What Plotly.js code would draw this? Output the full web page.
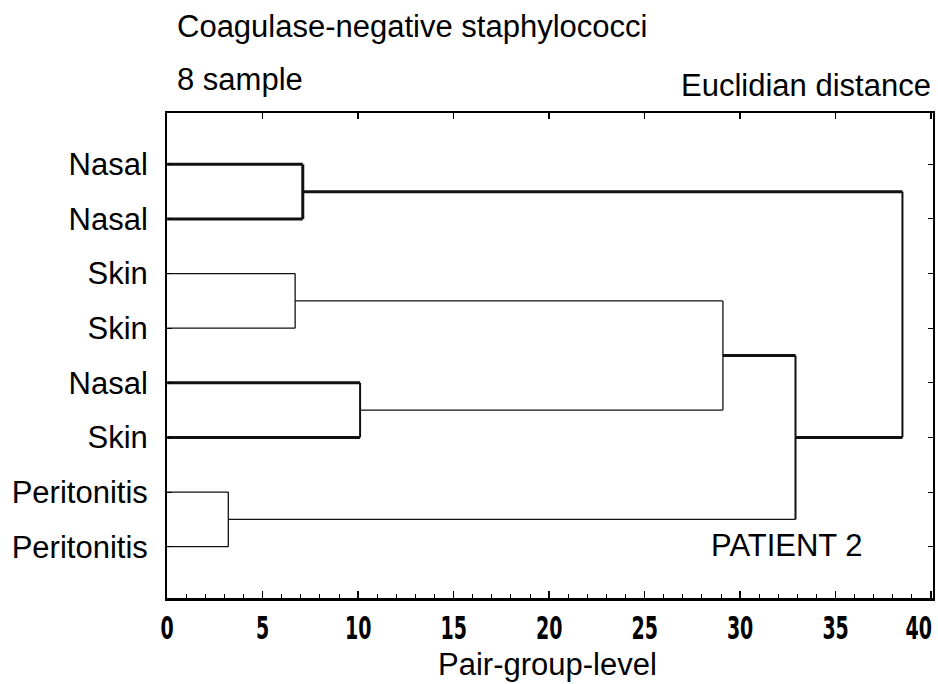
<!DOCTYPE html>
<html>
<head>
<meta charset="utf-8">
<script src="https://cdn.plot.ly/plotly-3.0.1.min.js"></script>
<style>
html,body{margin:0;padding:0;background:#fff;}
#chart{width:938px;height:684px;}
.xtick text{font-stretch:condensed;}
</style>
</head>
<body>
<div id="chart"></div>
<script>
// ---- data ----
const leafLabels = ["Nasal", "Nasal", "Skin", "Skin", "Nasal", "Skin", "Peritonitis", "Peritonitis"];
// linkage: clusters 0..7 are leaves, merge k creates cluster 8+k
const mergeLeft  = [0, 2, 4, 6, 9, 12, 8];
const mergeRight = [1, 3, 5, 7, 10, 11, 13];
const mergeLevel = [7.1, 6.7, 10.1, 3.2, 29.1, 32.9, 38.5];
const xTickVals = [0, 5, 10, 15, 20, 25, 30, 35, 40];

// ---- styles (kept apart from data) ----
const THICK = 3, THIN = 1.3, MID = 2;
const branchWidth = {0: THICK, 1: THICK, 2: THIN, 3: THIN, 4: THICK, 5: THICK, 6: THIN, 7: THIN,
                     8: THICK, 9: THIN, 10: THIN, 11: THIN, 12: THICK, 13: THICK};
const joinWidth = [THICK, THIN, MID, THIN, THIN, MID, MID];
const lineColor = "#111";
const textFont = {family: "Liberation Sans, Arial, sans-serif", size: 31, color: "#000"};

// ---- build dendrogram geometry from linkage ----
const nodeX = {}, nodeY = {};
leafLabels.forEach((_, i) => { nodeX[i] = 0; nodeY[i] = i + 1; });
const traces = [];
function seg(xs, ys, w) {
  traces.push({type: "scatter", mode: "lines", x: xs, y: ys, xaxis: "x", yaxis: "y",
    line: {color: lineColor, width: w, shape: "linear"}, hoverinfo: "skip", showlegend: false});
}
mergeLevel.forEach((h, k) => {
  const a = mergeLeft[k], b = mergeRight[k], id = leafLabels.length + k;
  seg([nodeX[a], h], [nodeY[a], nodeY[a]], branchWidth[a]);
  seg([nodeX[b], h], [nodeY[b], nodeY[b]], branchWidth[b]);
  seg([h, h], [nodeY[a], nodeY[b]], joinWidth[k]);
  nodeX[id] = h;
  nodeY[id] = (nodeY[a] + nodeY[b]) / 2;
});
// invisible trace to carry the top axis
traces.push({type: "scatter", mode: "markers", x: [20], y: [4], xaxis: "x2", yaxis: "y",
  marker: {opacity: 0}, hoverinfo: "skip", showlegend: false});

const xRange = [-0.01, 40.1];
const yRange = [8.94, 0.06];

const layout = {
  width: 938, height: 684,
  margin: {l: 167, r: 5, t: 113, b: 86, pad: 0},
  paper_bgcolor: "#fff", plot_bgcolor: "#fff",
  showlegend: false,
  xaxis: {
    range: xRange, tickvals: xTickVals, ticktext: xTickVals.map(String),
    ticks: "inside", ticklen: 7, tickwidth: 1.5, tickcolor: "#000",
    minor: {ticks: "inside", dtick: 1, tick0: 0, ticklen: 4, tickwidth: 1, tickcolor: "#000", showgrid: false},
    showline: true, linewidth: 2.5, linecolor: "#000", showgrid: false, zeroline: false,
    tickfont: {family: "Liberation Sans Narrow, DejaVu Sans Condensed, DejaVu Sans, sans-serif", size: 32, weight: "bold", color: "#000"},
    ticklabelstandoff: 0, ticklabeloverflow: "allow",
    fixedrange: true
  },
  xaxis2: {
    overlaying: "x", side: "top", anchor: "y", range: xRange, tickvals: xTickVals,
    ticks: "inside", ticklen: 6, tickwidth: 1.5, tickcolor: "#000",
    showticklabels: false, showline: true, linewidth: 2, linecolor: "#000",
    showgrid: false, zeroline: false
  },
  yaxis: {
    range: yRange, tickvals: leafLabels.map((_, i) => i + 1), ticktext: leafLabels,
    ticks: "inside", ticklen: 5, tickwidth: 1, tickcolor: "#000", mirror: "ticks",
    showline: true, linewidth: 2, linecolor: "#000", showgrid: false, zeroline: false,
    tickfont: textFont, ticklabelstandoff: 11,
    fixedrange: true
  },
  annotations: [
    {text: "Coagulase-negative staphylococci", xref: "paper", yref: "paper", x: 0.01, y: 1.178,
     xanchor: "left", yanchor: "middle", showarrow: false, font: textFont},
    {text: "8 sample", xref: "paper", yref: "paper", x: 0.01, y: 1.07,
     xanchor: "left", yanchor: "middle", showarrow: false, font: textFont},
    {text: "Euclidian distance", xref: "paper", yref: "paper", x: 1.0, y: 1.056,
     xanchor: "right", yanchor: "middle", showarrow: false, font: textFont},
    {text: "PATIENT 2", xref: "paper", yref: "paper", x: 0.708, y: 0.108,
     xanchor: "left", yanchor: "middle", showarrow: false, font: textFont},
    {text: "Pair-group-level", xref: "paper", yref: "paper", x: 0.497, y: -0.138,
     xanchor: "center", yanchor: "middle", showarrow: false, font: textFont}
  ]
};

Plotly.newPlot("chart", traces, layout, {staticPlot: true, displayModeBar: false}).then(gd => {
  // condense the bottom tick numbers horizontally (tall narrow bold digits),
  // and keep the last one inside the picture as the original does
  const svgRect = gd.querySelector(".main-svg").getBoundingClientRect();
  gd.querySelectorAll("g.xtick text").forEach(t => {
    let tr = t.getAttribute("transform") || "";
    if (!/scale\(/.test(tr)) { tr = (tr + " scale(0.66,1)").trim(); t.setAttribute("transform", tr); }
    const r = t.getBoundingClientRect();
    const over = r.right - (svgRect.left + 932);
    if (over > 0) t.setAttribute("transform", "translate(" + (-over) + ",0) " + tr);
  });
});
</script>
</body>
</html>
